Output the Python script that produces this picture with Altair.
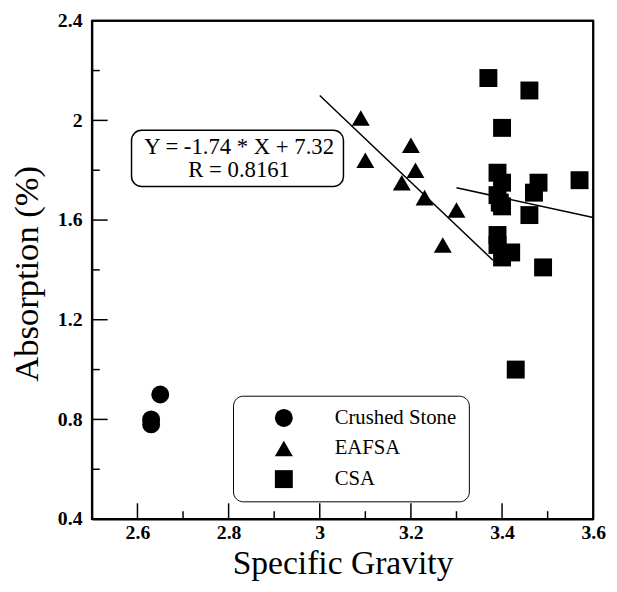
import altair as alt
import pandas as pd

# ---- data ----
stone_x = [2.65, 2.63, 2.63]
stone_y = [0.90, 0.80, 0.78]

eafsa_x = [3.09, 3.10, 3.20, 3.21, 3.18, 3.23, 3.30, 3.27]
eafsa_y = [2.01, 1.84, 1.90, 1.80, 1.75, 1.69, 1.64, 1.50]

csa_x = [3.37, 3.46, 3.40, 3.39, 3.40, 3.39, 3.395, 3.40, 3.48, 3.47, 3.57,
         3.46, 3.39, 3.39, 3.42, 3.40, 3.49, 3.43]
csa_y = [2.17, 2.12, 1.97, 1.79, 1.75, 1.70, 1.67, 1.655, 1.75, 1.71, 1.76,
         1.62, 1.54, 1.50, 1.47, 1.45, 1.41, 1.00]

series_names = ["Crushed Stone", "EAFSA", "CSA"]

# regression lines (endpoints)
fit1_x = [3.0, 3.38]
fit1_y = [-1.74 * 3.0 + 7.32, -1.74 * 3.38 + 7.32]
fit2_x = [3.30, 3.60]
fit2_y = [1.73, 1.61]

x_major = [2.6, 2.8, 3.0, 3.2, 3.4]
x_minor = [2.7, 2.9, 3.1, 3.3, 3.5]
y_major = [0.8, 1.2, 1.6, 2.0]
y_minor = [0.6, 1.0, 1.4, 1.8, 2.2]
x_labels = [2.6, 2.8, 3.0, 3.2, 3.4, 3.6]
y_labels = [0.4, 0.8, 1.2, 1.6, 2.0, 2.4]
x_domain = [2.5, 3.6]
y_domain = [0.4, 2.4]

eq_lines = ["Y = -1.74 * X + 7.32", "R = 0.8161"]

FONT = "Liberation Serif"
W, H = 508, 505

pts = pd.DataFrame(
    [{"x": x, "y": y, "series": series_names[0]} for x, y in zip(stone_x, stone_y)]
    + [{"x": x, "y": y, "series": series_names[1]} for x, y in zip(eafsa_x, eafsa_y)]
    + [{"x": x, "y": y, "series": series_names[2]} for x, y in zip(csa_x, csa_y)]
)
fits = pd.DataFrame(
    [{"x": x, "y": y, "fit": "EAFSA"} for x, y in zip(fit1_x, fit1_y)]
    + [{"x": x, "y": y, "fit": "CSA"} for x, y in zip(fit2_x, fit2_y)]
)

xs = alt.Scale(domain=x_domain, nice=False, zero=False)
ys = alt.Scale(domain=y_domain, nice=False, zero=False)

x_axis = alt.Axis(values=x_labels, format="~g", ticks=False, grid=False,
                  domain=True, domainColor="black", domainWidth=2,
                  labelFont=FONT, labelFontSize=20, labelFontWeight="bold", labelColor="black",
                  labelBaseline="alphabetic", labelPadding=20, labelFlush=False,
                  title="Specific Gravity", titleFont=FONT, titleFontSize=34,
                  titleFontWeight="normal", titleColor="black", titleY=55,
                  titleBaseline="alphabetic")
y_axis = alt.Axis(values=y_labels, format="~g", ticks=False, grid=False,
                  domain=True, domainColor="black", domainWidth=2,
                  labelFont=FONT, labelFontSize=20, labelFontWeight="bold", labelColor="black",
                  labelPadding=10, labelFlush=False,
                  title="Absorption (%)", titleFont=FONT, titleFontSize=35,
                  titleFontWeight="normal", titleColor="black", titleX=-66, titleY=256,
                  titleAngle=-90, titleBaseline="middle", titleAlign="center")

points = alt.Chart(pts).mark_point(filled=True, opacity=1, color="black").encode(
    x=alt.X("x:Q", scale=xs, axis=x_axis),
    y=alt.Y("y:Q", scale=ys, axis=y_axis),
    shape=alt.Shape("series:N",
                    scale=alt.Scale(domain=series_names,
                                    range=["circle", "triangle-up", "square"]),
                    legend=alt.Legend(title=None, orient="none", legendX=143, legendY=380,
                                      fillColor="white", strokeColor="black",
                                      cornerRadius=10, padding=12, rowPadding=9,
                                      symbolOffset=29, labelOffset=41,
                                      symbolFillColor="black", symbolStrokeWidth=0,
                                      symbolSize=330, labelFont=FONT, labelFontSize=21,
                                      labelColor="black", labelLimit=300)),
    size=alt.value(330),
)

fit_lines = alt.Chart(fits).mark_line(color="black", strokeWidth=1.5).encode(
    x=alt.X("x:Q", scale=xs), y=alt.Y("y:Q", scale=ys), detail="fit:N"
)

rule_style = dict(color="black", strokeWidth=1.5)
xt_major = alt.Chart(pd.DataFrame({"v": x_major})).mark_rule(**rule_style).encode(
    x=alt.X("v:Q", scale=xs), y=alt.value(H), y2=alt.value(H - 16))
xt_minor = alt.Chart(pd.DataFrame({"v": x_minor})).mark_rule(**rule_style).encode(
    x=alt.X("v:Q", scale=xs), y=alt.value(H), y2=alt.value(H - 8))
yt_major = alt.Chart(pd.DataFrame({"v": y_major})).mark_rule(**rule_style).encode(
    y=alt.Y("v:Q", scale=ys), x=alt.value(0), x2=alt.value(16))
yt_minor = alt.Chart(pd.DataFrame({"v": y_minor})).mark_rule(**rule_style).encode(
    y=alt.Y("v:Q", scale=ys), x=alt.value(0), x2=alt.value(8))

one = pd.DataFrame({"a": [0]})

# top and right edges of the frame, along the scale domain
edge_top = alt.Chart(pd.DataFrame({"v": [y_domain[1]]})).mark_rule(color="black", strokeWidth=2).encode(
    y=alt.Y("v:Q", scale=ys), x=alt.value(0), x2=alt.value(W))
edge_right = alt.Chart(pd.DataFrame({"v": [x_domain[1]]})).mark_rule(color="black", strokeWidth=2).encode(
    x=alt.X("v:Q", scale=xs), y=alt.value(0), y2=alt.value(H))

box = alt.Chart(one).mark_rect(
    fill="white", stroke="black", strokeWidth=1.5, cornerRadius=10
).encode(
    x=alt.datum(2.587, scale=xs), x2=alt.datum(3.052),
    y=alt.datum(1.960, scale=ys), y2=alt.datum(1.735),
)
eq = alt.Chart(pd.DataFrame({"t": eq_lines, "yy": [1.893, 1.802]})).mark_text(
    font=FONT, fontSize=23, color="black", align="center", baseline="middle"
).encode(
    x=alt.datum(2.823, scale=xs), y=alt.Y("yy:Q", scale=ys), text="t:N"
)

chart = alt.layer(
    fit_lines, xt_major, xt_minor, yt_major, yt_minor, edge_top, edge_right,
    box, eq, points
).properties(
    width=W, height=H,
    background="white",
    autosize=alt.AutoSizeParams(type="none"),
    padding={"left": 85, "top": 9, "right": 16, "bottom": 70},
).configure_view(stroke="black", strokeWidth=2)

chart.save("out.html", embed_options={"renderer": "svg", "actions": False})
